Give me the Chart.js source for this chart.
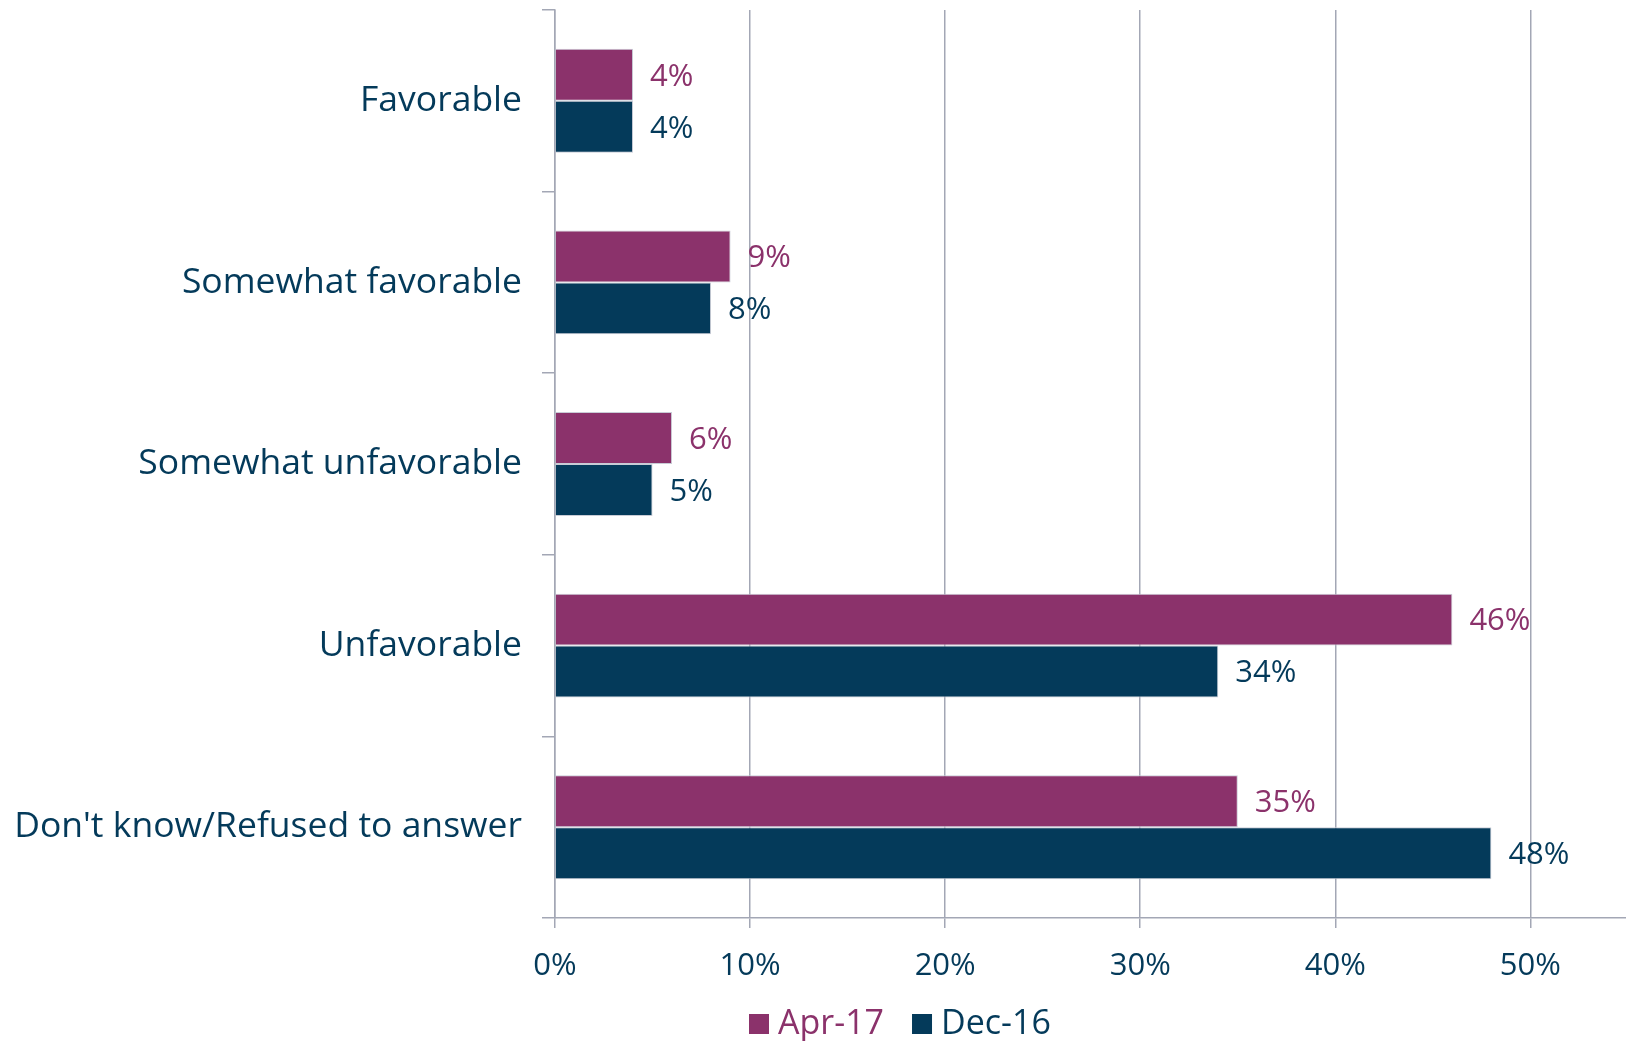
<!DOCTYPE html>
<html>
<head>
<meta charset="utf-8">
<script src="https://cdn.jsdelivr.net/npm/chart.js@4.4.1/dist/chart.umd.min.js"></script>
<style>
  html, body { margin: 0; padding: 0; background: #fff; }
  #wrap { width: 1626px; height: 1041px; }
</style>
</head>
<body>
<div id="wrap"><canvas id="myChart" width="1626" height="1041"></canvas></div>
<script>
const categories = ['Favorable', 'Somewhat favorable', 'Somewhat unfavorable', 'Unfavorable', "Don't know/Refused to answer"];
const apr17 = [4, 9, 6, 46, 35];
const dec16 = [4, 8, 5, 34, 48];
const seriesNames = ['Apr-17', 'Dec-16'];
const tickValues = [0, 10, 20, 30, 40, 50];

const PURPLE = '#8B326B';
const NAVY = '#043A5A';
const GRID = '#A3A7B5';
const FONT = '"Open Sans", "Liberation Sans", sans-serif';

// value labels at the end of each bar, in the series colour
const valueLabels = {
  id: 'valueLabels',
  afterDatasetsDraw(chart) {
    const ctx = chart.ctx;
    ctx.save();
    ctx.font = '31px ' + FONT;
    ctx.textBaseline = 'middle';
    ctx.textAlign = 'left';
    chart.data.datasets.forEach((ds, i) => {
      ctx.fillStyle = ds.backgroundColor;
      chart.getDatasetMeta(i).data.forEach((bar, j) => {
        ctx.fillText(ds.data[j] + '%', bar.x + 17, bar.y + 2);
      });
    });
    ctx.restore();
  }
};

// legend under the axis labels, text coloured like its series
const bottomLegend = {
  id: 'bottomLegend',
  afterDraw(chart) {
    const ctx = chart.ctx;
    ctx.save();
    ctx.font = '34px ' + FONT;
    ctx.textBaseline = 'middle';
    let x = 749;
    const y = 1024;
    chart.data.datasets.forEach(ds => {
      ctx.fillStyle = ds.backgroundColor;
      ctx.fillRect(x, y - 10, 20, 20);
      x += 29;
      ctx.fillText(ds.label, x, y);
      x += ctx.measureText(ds.label).width + 28;
    });
    ctx.restore();
  }
};

new Chart(document.getElementById('myChart').getContext('2d'), {
  type: 'bar',
  data: {
    labels: categories,
    datasets: [
      { label: seriesNames[0], data: apr17, backgroundColor: PURPLE, borderColor: '#C9CCD6', borderWidth: 1 },
      { label: seriesNames[1], data: dec16, backgroundColor: NAVY, borderColor: '#C9CCD6', borderWidth: 1 }
    ]
  },
  plugins: [valueLabels, bottomLegend],
  options: {
    indexAxis: 'y',
    responsive: false,
    animation: false,
    devicePixelRatio: 1,
    categoryPercentage: 0.572,
    barPercentage: 1,
    layout: { padding: { top: 10, right: 0, left: 0, bottom: 0 } },
    plugins: {
      legend: { display: false },
      tooltip: { enabled: false }
    },
    scales: {
      x: {
        min: 0,
        max: 54.9,
        afterBuildTicks: axis => {
          axis.ticks = tickValues.map(v => ({ value: v }));
        },
        afterFit: axis => { axis.height = 123; axis.paddingRight = 0; },
        grid: { color: GRID, lineWidth: 1.5, tickLength: 10, drawOnChartArea: true },
        border: { display: true, color: GRID, width: 1.5 },
        ticks: {
          color: NAVY,
          font: { family: FONT, size: 31 },
          padding: 20,
          callback: v => v + '%'
        }
      },
      y: {
        afterFit: axis => { axis.width = 555; axis.paddingTop = 0; axis.paddingBottom = 0; },
        grid: { color: GRID, lineWidth: 1.5, tickLength: 13, drawOnChartArea: false, offset: true },
        border: { display: true, color: GRID, width: 1.5 },
        ticks: {
          color: NAVY,
          font: { family: FONT, size: 35.5 },
          padding: 20
        }
      }
    }
  }
});
</script>
</body>
</html>
